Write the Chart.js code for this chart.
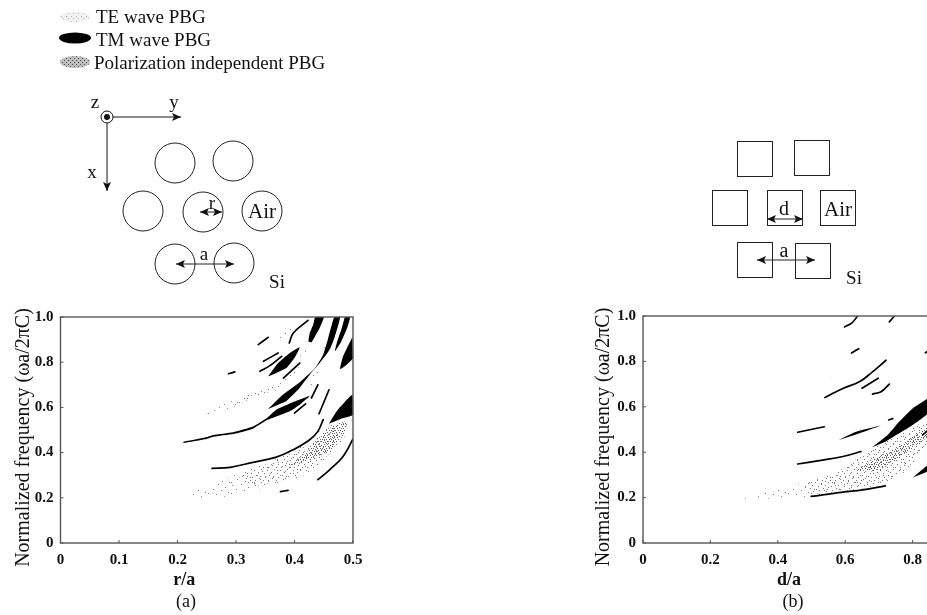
<!DOCTYPE html>
<html>
<head>
<meta charset="utf-8">
<title>PBG maps</title>
<script src="https://cdn.jsdelivr.net/npm/chart.js@4/dist/chart.umd.min.js"></script>
<style>
    html, body { margin: 0; background: #fff; overflow: hidden; width: 927px; height: 615px; }
    canvas, svg { position: absolute; }
    svg text { font-family: "Liberation Serif", serif; fill: #111; }
</style>
</head>
<body>
<canvas id="graficaA" width="375" height="315" style="left:0;top:300px"></canvas>
<canvas id="graficaB" width="430" height="315" style="left:580px;top:300px"></canvas>

<svg width="927" height="615" style="left:0;top:0">
    <defs>
        <pattern id="puntosTE" width="5" height="5" patternUnits="userSpaceOnUse">
            <rect width="5" height="5" fill="#f1f1f1"/>
            <rect x="1" y="1" width="1" height="1" fill="#aaa"/>
            <rect x="3" y="3" width="1" height="1" fill="#bbb"/>
        </pattern>
        <pattern id="puntosPol" width="4" height="4" patternUnits="userSpaceOnUse">
            <rect width="4" height="4" fill="#bdbdbd"/>
            <rect x="0" y="0" width="1" height="1" fill="#555"/>
            <rect x="2" y="2" width="1" height="1" fill="#555"/>
        </pattern>
        <marker id="punta" markerWidth="10" markerHeight="9" refX="9" refY="4.5" orient="auto-start-reverse">
            <path d="M0,0.5 L9,4.5 L0,8.5 L2,4.5 Z" fill="#111"/>
        </marker>
    </defs>

    <!-- leyenda -->
    <ellipse cx="75" cy="17" rx="15" ry="5" fill="url(#puntosTE)"/>
    <ellipse cx="75" cy="38" rx="16" ry="5.5" fill="#000"/>
    <ellipse cx="75" cy="62" rx="15" ry="6" fill="url(#puntosPol)"/>
    <text x="96" y="23" font-size="19">TE wave PBG</text>
    <text x="96" y="46" font-size="19">TM wave PBG</text>
    <text x="94" y="69" font-size="19">Polarization independent PBG</text>

    <!-- ejes del esquema -->
    <g fill="none" stroke="#111" stroke-width="1">
        <circle cx="107" cy="117" r="6"/>
        <line x1="113" y1="117" x2="181" y2="117" marker-end="url(#punta)"/>
        <line x1="107" y1="123" x2="107" y2="191" marker-end="url(#punta)"/>
    </g>
    <circle cx="107" cy="117" r="3" fill="#111"/>
    <text x="95" y="108" font-size="19" text-anchor="middle">z</text>
    <text x="174" y="108" font-size="19" text-anchor="middle">y</text>
    <text x="92" y="178" font-size="19" text-anchor="middle">x</text>

    <!-- red de circulos -->
    <g fill="none" stroke="#222" stroke-width="1">
        <circle cx="175" cy="163" r="20"/>
        <circle cx="233" cy="161" r="20"/>
        <circle cx="143" cy="211" r="20"/>
        <circle cx="203" cy="212" r="20"/>
        <circle cx="262" cy="211" r="20"/>
        <circle cx="175" cy="264" r="20"/>
        <circle cx="234" cy="263" r="20"/>
        <line x1="200" y1="212" x2="222" y2="212" marker-start="url(#punta)" marker-end="url(#punta)"/>
        <line x1="176" y1="264" x2="234" y2="264" marker-start="url(#punta)" marker-end="url(#punta)"/>
    </g>
    <text x="212" y="209" font-size="19" text-anchor="middle">r</text>
    <text x="262" y="218" font-size="21" text-anchor="middle">Air</text>
    <text x="204" y="260" font-size="19" text-anchor="middle">a</text>
    <text x="277" y="288" font-size="19" text-anchor="middle">Si</text>

    <!-- red de cuadrados -->
    <g fill="none" stroke="#222" stroke-width="1">
        <rect x="737.5" y="141.5" width="35" height="35"/>
        <rect x="794.5" y="140.5" width="35" height="35"/>
        <rect x="712.5" y="190.5" width="35" height="35"/>
        <rect x="767.5" y="190.5" width="35" height="35"/>
        <rect x="820.5" y="190.5" width="35" height="35"/>
        <rect x="737.5" y="242.5" width="35" height="35"/>
        <rect x="795.5" y="243.5" width="35" height="35"/>
        <line x1="767" y1="219" x2="803" y2="219" marker-start="url(#punta)" marker-end="url(#punta)"/>
        <line x1="757" y1="260" x2="815" y2="260" marker-start="url(#punta)" marker-end="url(#punta)"/>
    </g>
    <text x="784" y="215" font-size="20" text-anchor="middle">d</text>
    <text x="838" y="216" font-size="21" text-anchor="middle">Air</text>
    <text x="784" y="257" font-size="20" text-anchor="middle">a</text>
    <text x="854" y="284" font-size="19" text-anchor="middle">Si</text>

    <text x="186" y="607" font-size="18" text-anchor="middle">(a)</text>
    <text x="793" y="607" font-size="18" text-anchor="middle">(b)</text>
</svg>

<script>
const xTicksA = [0, 0.1, 0.2, 0.3, 0.4, 0.5];
const xTicksB = [0, 0.2, 0.4, 0.6, 0.8, 1.0];
const yTicks = [0, 0.2, 0.4, 0.6, 0.8, 1.0];

// panel (a): bandas TM anchas, contorno cerrado [r/a, frecuencia]
const tmBandasA = [
    [[.21, .448], [.25, .469], [.261, .478], [.295, .49], [.329, .515], [.352, .552], [.369, .59], [.392, .617], [.426, .65],
     [.409, .612], [.392, .583], [.369, .56], [.352, .543], [.329, .506], [.295, .482], [.261, .47], [.25, .46], [.21, .442]],
    [[.355, .593], [.38, .656], [.409, .711], [.435, .774], [.449, .833], [.457, .9], [.468, 1], [.478, 1],
     [.469, .914], [.46, .855], [.443, .796], [.426, .745], [.406, .678], [.386, .627]],
    [[.435, 1], [.45, 1], [.443, .951], [.435, .914], [.429, .888], [.424, .892], [.426, .929], [.432, .966]],
    [[.486, 1], [.495, 1], [.49, .951], [.48, .892], [.469, .848], [.473, .892], [.48, .944]],
    [[.499, .912], [.5, .819], [.489, .789], [.478, .77], [.483, .826], [.491, .87]],
    [[.355, .737], [.372, .796], [.392, .841], [.409, .866], [.4, .819], [.386, .774], [.369, .752]],
    [[.459, .528], [.472, .583], [.499, .656], [.5, .568], [.483, .553]]
];

// panel (a): bandas TM finas
const tmLineasA = [
    [[.338, .878], [.355, .91]],
    [[.347, .804], [.372, .841]],
    [[.341, .76], [.358, .785], [.378, .826]],
    [[.287, .749], [.298, .757]],
    [[.391, .885], [.398, .929], [.423, .985]],
    [[.381, .73], [.409, .796]],
    [[.40, .575], [.419, .616]],
    [[.429, .642], [.44, .70]],
    [[.442, .572], [.459, .678]],
    [[.259, .33], [.29, .335], [.329, .357], [.369, .38], [.398, .413], [.426, .457], [.44, .494], [.449, .546]],
    [[.44, .28], [.46, .324], [.483, .383], [.5, .46]],
    [[.376, .227], [.389, .233]]
];

// panel (a): zonas punteadas
const teZonasA = [
    [[.216, .224], [.261, .258], [.295, .302], [.329, .332], [.369, .372], [.398, .406], [.426, .45], [.446, .501], [.466, .528], [.499, .56],
     [.491, .494], [.474, .428], [.446, .347], [.412, .295], [.375, .263], [.329, .229], [.284, .206], [.238, .204]],
    [[.235, .553], [.29, .627], [.335, .671], [.375, .708], [.398, .774], [.418, .87], [.435, 1],
     [.437, 1], [.423, .855], [.403, .76], [.381, .69], [.335, .642], [.29, .597]],
    [[.344, .858], [.369, .903], [.386, .944], [.40, 1], [.406, 1], [.392, .937], [.372, .888]],
    [[.426, .70], [.44, .796], [.457, .9], [.463, .892], [.446, .789], [.432, .693]]
];
const teMediaA = [
    [[.30, .30], [.369, .365], [.398, .40], [.426, .44], [.446, .49], [.47, .52], [.47, .43], [.446, .36], [.412, .305], [.375, .275], [.33, .25]],
    [[.29, .61], [.335, .665], [.375, .705], [.381, .695], [.335, .648], [.29, .60]]
];
const polZonasA = [
    [[.386, .339], [.426, .413], [.446, .479], [.466, .519], [.489, .538], [.486, .487], [.466, .42], [.446, .391], [.415, .361]]
];

// panel (b)
const tmBandasB = [
    [[.68, .422], [.726, .476], [.76, .534], [.80, .593], [.841, .633], [.9, .72], [.9, .66], [.841, .564], [.80, .52], [.76, .483], [.721, .447]],
    [[.80, .288], [.84, .337], [.87, .37], [.87, .345], [.84, .312]],
    [[.581, .454], [.632, .49], [.706, .518], [.632, .478]]
];
const tmLineasB = [
    [[.598, .952], [.62, .97], [.637, 1]],
    [[.731, .974], [.746, 1]],
    [[.619, .837], [.64, .856]],
    [[.54, .641], [.593, .681], [.642, .71], [.681, .754], [.721, .805]],
    [[.65, .682], [.698, .726]],
    [[.681, .656], [.706, .666], [.731, .70]],
    [[.459, .488], [.538, .512]],
    [[.729, .542], [.741, .548]],
    [[.459, .348], [.523, .363], [.593, .381], [.647, .403]],
    [[.499, .205], [.593, .224], [.652, .234], [.719, .252]],
    [[.83, .476], [.88, .54]],
    [[.838, .838], [.87, .87]]
];
const teZonasB = [
    [[.272, .195], [.365, .223], [.494, .271], [.573, .315], [.652, .388], [.721, .454], [.79, .505], [.84, .527], [.9, .58],
     [.9, .52], [.84, .425], [.80, .351], [.77, .30], [.721, .261], [.652, .237], [.563, .223], [.504, .205], [.405, .195]],
    [[.514, .713], [.563, .729], [.563, .722], [.514, .707]],
    [[.632, .49], [.691, .534], [.691, .524], [.632, .482]]
];
const teMediaB = [
    [[.47, .255], [.573, .31], [.652, .383], [.721, .45], [.79, .50], [.9, .58], [.9, .52], [.80, .355], [.77, .305], [.721, .265], [.652, .24], [.563, .226], [.5, .215]]
];
const polZonasB = [
    [[.632, .322], [.701, .381], [.751, .417], [.80, .469], [.84, .505], [.9, .57], [.9, .52], [.84, .461], [.79, .41], [.746, .359], [.681, .315]]
];

function crearPunteado(lado, puntos, color) {
    const tile = document.createElement("canvas");
    tile.width = lado;
    tile.height = lado;
    const ctx = tile.getContext("2d");
    ctx.fillStyle = color;
    puntos.forEach(([x, y]) => ctx.fillRect(x, y, 1, 1));
    return ctx.createPattern(tile, "repeat");
}

const punteadoTE = crearPunteado(23, [
    [2, 1], [11, 0], [18, 3], [6, 5], [14, 6], [21, 8], [1, 9], [9, 10],
    [17, 12], [4, 14], [12, 15], [20, 16], [7, 18], [15, 20], [1, 21], [22, 21]
], "#7f7f7f");
const punteadoMedio = crearPunteado(13, [
    [1, 0], [7, 1], [11, 3], [4, 4], [9, 6], [0, 7], [5, 8], [12, 9], [3, 11], [8, 11]
], "#777");
const punteadoPol = crearPunteado(9, [
    [0, 0], [3, 0], [6, 1], [1, 2], [4, 2], [8, 2], [2, 4], [5, 4], [7, 4], [0, 5],
    [3, 6], [6, 6], [8, 7], [1, 7], [4, 8]
], "#5f5f5f");

const aPuntos = (lista) => lista.map(([x, y]) => ({ x, y }));

function capaRelleno(lista, etiqueta, relleno) {
    return lista.map((zona) => ({
        label: etiqueta,
        data: aPuntos(zona),
        showLine: true,
        fill: "shape",
        backgroundColor: relleno,
        borderWidth: 0,
        pointRadius: 0,
        tension: 0.15
    }));
}

function capaLinea(lista, etiqueta) {
    return lista.map((linea) => ({
        label: etiqueta,
        data: aPuntos(linea),
        showLine: true,
        fill: false,
        borderColor: "#000",
        borderWidth: 1.7,
        borderCapStyle: "round",
        pointRadius: 0,
        tension: 0.4
    }));
}

// marco del plot y marcas cortas hacia dentro
const marcoPlot = {
    id: "marcoPlot",
    afterDatasetsDraw(chart) {
        const { ctx, chartArea: a, scales } = chart;
        ctx.save();
        ctx.strokeStyle = "#555";
        ctx.lineWidth = 1.4;
        ctx.strokeRect(a.left, a.top, a.right - a.left, a.bottom - a.top);
        ctx.lineWidth = 1;
        ctx.beginPath();
        scales.x.ticks.forEach((t) => {
            const px = scales.x.getPixelForValue(t.value);
            ctx.moveTo(px, a.bottom);
            ctx.lineTo(px, a.bottom - 3);
        });
        scales.y.ticks.forEach((t) => {
            const py = scales.y.getPixelForValue(t.value);
            ctx.moveTo(a.left, py);
            ctx.lineTo(a.left + 3, py);
        });
        ctx.stroke();
        ctx.restore();
    }
};

function crearPanel(id, cfg) {
    new Chart(document.getElementById(id), {
        type: "scatter",
        data: {
            datasets: [
                ...capaLinea(cfg.lineas, "TM wave PBG"),
                ...capaRelleno(cfg.bandas, "TM wave PBG", "#000"),
                ...capaRelleno(cfg.pol, "Polarization independent PBG", punteadoPol),
                ...capaRelleno(cfg.media, "TE wave PBG", punteadoMedio),
                ...capaRelleno(cfg.te, "TE wave PBG", punteadoTE)
            ]
        },
        options: {
            responsive: false,
            animation: false,
            layout: { padding: { top: cfg.arriba, right: cfg.derecha, bottom: 24 } },
            plugins: { legend: { display: false }, tooltip: { enabled: false } },
            scales: {
                x: {
                    type: "linear",
                    min: 0,
                    max: cfg.xMax,
                    afterBuildTicks: (s) => { s.ticks = cfg.xTicks.map((value) => ({ value })); },
                    afterFit: (s) => { s.height = 48; },
                    grid: { display: false, drawTicks: false },
                    border: { display: false },
                    ticks: {
                        color: "#111",
                        padding: 8,
                        maxRotation: 0,
                        autoSkip: false,
                        font: { family: "Liberation Serif", weight: "bold", size: 15 },
                        callback: (v) => (v === 0 ? "0" : v.toFixed(1))
                    },
                    title: {
                        display: true,
                        text: cfg.xTitulo + "\u00a0".repeat(10),
                        color: "#111",
                        padding: { top: 2, bottom: 0 },
                        font: { family: "Liberation Serif", weight: "bold", size: 18 }
                    }
                },
                y: {
                    type: "linear",
                    min: 0,
                    max: 1,
                    afterBuildTicks: (s) => { s.ticks = yTicks.map((value) => ({ value })); },
                    afterFit: (s) => { s.width = cfg.izquierda; },
                    grid: { display: false, drawTicks: false },
                    border: { display: false },
                    ticks: {
                        color: "#111",
                        padding: 7,
                        font: { family: "Liberation Serif", weight: "bold", size: 15 },
                        callback: (v) => (v === 0 ? "0" : v.toFixed(1))
                    },
                    title: {
                        display: true,
                        text: "Normalized frequency (\u03c9a/2\u03c0C)" + "\u00a0".repeat(3),
                        color: "#111",
                        padding: { top: 12, bottom: 0 },
                        font: { family: "Liberation Serif", size: 20 }
                    }
                }
            }
        },
        plugins: [marcoPlot]
    });
}

document.fonts.ready.then(() => {
    crearPanel("graficaA", {
        xMax: 0.5, xTicks: xTicksA, xTitulo: "r/a",
        arriba: 17, derecha: 22, izquierda: 60.5,
        bandas: tmBandasA, lineas: tmLineasA, te: teZonasA, media: teMediaA, pol: polZonasA
    });
    crearPanel("graficaB", {
        xMax: 1, xTicks: xTicksB, xTitulo: "d/a",
        arriba: 16, derecha: 30, izquierda: 63,
        bandas: tmBandasB, lineas: tmLineasB, te: teZonasB, media: teMediaB, pol: polZonasB
    });
});
</script>
</body>
</html>
